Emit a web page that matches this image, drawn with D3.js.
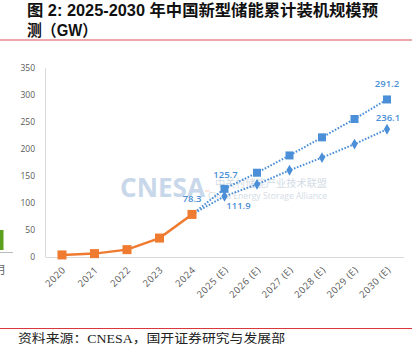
<!DOCTYPE html>
<html>
<head>
<meta charset="utf-8">
<script src="https://cdn.jsdelivr.net/npm/d3@7"></script>
<style>
  html, body { margin: 0; padding: 0; background: #fff; }
  svg { display: block; }
</style>
</head>
<body>
<svg id="chart" width="418" height="348"></svg>
<script>
// Cumulative installed capacity of new-type energy storage in China (GW)
const years = ["2020", "2021", "2022", "2023", "2024",
  "2025 (E)", "2026 (E)", "2027 (E)", "2028 (E)", "2029 (E)", "2030 (E)"];
const historyYears = ["2020", "2021", "2022", "2023", "2024"];
const historyValues = [3.3, 5.7, 13.1, 34.5, 78.3];
const forecastYears = ["2024", "2025 (E)", "2026 (E)", "2027 (E)", "2028 (E)", "2029 (E)", "2030 (E)"];
const highValues = [78.3, 125.7, 155.5, 187.5, 221.0, 255.0, 291.2];
const lowValues = [78.3, 111.9, 134.0, 160.0, 183.5, 208.5, 236.1];
const yTicks = [0, 50, 100, 150, 200, 250, 300, 350];

const svg = d3.select("#chart");
const orange = "#ee7b30";
const blue = "#4a8fd8";
const tickGray = "#595959";
const cjk = "'Noto Sans CJK SC'";

// Header
const title = svg.append("g")
  .attr("font-family", "'Liberation Sans', " + cjk)
  .attr("font-weight", "bold")
  .attr("font-size", 16)
  .attr("fill", "#111")
  .style("white-space", "pre");
title.append("text").attr("x", 27).attr("y", 16)
  .attr("textLength", 351).attr("lengthAdjust", "spacingAndGlyphs")
  .text("图 2:   2025-2030 年中国新型储能累计装机规模预");
title.append("text").attr("x", 27).attr("y", 36)
  .attr("textLength", 70).attr("lengthAdjust", "spacingAndGlyphs")
  .text("测（GW）");
svg.append("line").attr("x1", 0).attr("x2", 412).attr("y1", 40).attr("y2", 40)
  .attr("stroke", "#e88a90").attr("stroke-width", 1.5);

// Footer
svg.append("line").attr("x1", 0).attr("x2", 412).attr("y1", 328.5).attr("y2", 328.5)
  .attr("stroke", "#d9383f").attr("stroke-width", 1);
svg.append("text").attr("x", 18).attr("y", 343)
  .attr("font-family", "'Liberation Serif', " + cjk)
  .attr("font-size", 12.5).attr("fill", "#222")
  .attr("textLength", 267).attr("lengthAdjust", "spacingAndGlyphs")
  .text("资料来源：CNESA，国开证券研究与发展部");

// Neighbouring page fragment on the left edge
svg.append("rect").attr("x", 0).attr("y", 230).attr("width", 3.5).attr("height", 20).attr("fill", "#5aa01e");
svg.append("line").attr("x1", 0).attr("x2", 13).attr("y1", 252.5).attr("y2", 252.5).attr("stroke", "#bbb");
svg.append("text").attr("x", -5).attr("y", 274).attr("font-family", cjk)
  .attr("font-size", 11).attr("fill", "#666").text("月");

// Scales
const x = d3.scaleBand().domain(years).range([45.75, 403.25]).padding(0);
const cx = d => x(d) + x.bandwidth() / 2;
const y = d3.scaleLinear().domain([0, 350]).range([256.7, 67.7]);

// Watermark
const wm = svg.append("g");
wm.append("text").attr("x", 120).attr("y", 197)
  .attr("font-family", "'Open Sans'").attr("font-weight", "bold").attr("font-size", 27)
  .attr("fill", "#c8d8ea").attr("textLength", 85).attr("lengthAdjust", "spacingAndGlyphs")
  .text("CNESA");
wm.append("text").attr("x", 205).attr("y", 192).attr("font-family", "'Open Sans'")
  .attr("font-size", 4).attr("fill", "#f3b48a").text("cn");
wm.append("text").attr("x", 215).attr("y", 187).attr("font-family", cjk)
  .attr("font-size", 10.5).attr("fill", "#d4dce6")
  .attr("textLength", 112).attr("lengthAdjust", "spacingAndGlyphs")
  .text("中关村储能产业技术联盟");
wm.append("text").attr("x", 208).attr("y", 199).attr("font-family", "'Open Sans'")
  .attr("font-size", 8.5).attr("fill", "#d4dce6")
  .attr("textLength", 119).attr("lengthAdjust", "spacingAndGlyphs")
  .text("China Energy Storage Alliance");

// Axes
const yAxis = svg.append("g").attr("transform", "translate(45,0)")
  .call(d3.axisLeft(y).tickValues(yTicks).tickSize(0).tickPadding(10));
yAxis.select(".domain").attr("stroke", "#d9d9d9");
yAxis.selectAll("text").attr("font-family", "'Open Sans'").attr("font-size", 8.5).attr("fill", tickGray);

const xAxis = svg.append("g").attr("transform", "translate(0,257)")
  .call(d3.axisBottom(x).tickSize(0).tickFormat(d => d));
xAxis.select(".domain").attr("stroke", "#d9d9d9").attr("stroke-width", 1);
xAxis.selectAll("text")
  .attr("font-family", "'Open Sans'").attr("font-size", 9.5).attr("fill", tickGray)
  .attr("letter-spacing", 0.6)
  .attr("text-anchor", "end")
  .attr("y", 0).attr("dy", "0.35em")
  .attr("transform", "translate(2,11) rotate(-45)");

// Forecast lines (dotted)
const line = d3.line();
const plot = svg.append("g");
[highValues, lowValues].forEach(vals => {
  plot.append("path")
    .datum(forecastYears.map((yr, i) => [cx(yr), y(vals[i])]))
    .attr("d", line).attr("fill", "none")
    .attr("stroke", blue).attr("stroke-width", 2)
    .attr("stroke-dasharray", "1.6,1.6");
});
// High scenario squares
plot.selectAll(".sq").data(forecastYears.slice(1).map((yr, i) => [yr, highValues[i + 1]]))
  .join("rect").attr("class", "sq")
  .attr("x", d => cx(d[0]) - 4).attr("y", d => y(d[1]) - 4)
  .attr("width", 8).attr("height", 8).attr("fill", blue);
// Low scenario diamonds
plot.selectAll(".dm").data(forecastYears.slice(1).map((yr, i) => [yr, lowValues[i + 1]]))
  .join("path").attr("class", "dm")
  .attr("d", d3.symbol(d3.symbolDiamond, 34))
  .attr("transform", d => `translate(${cx(d[0])},${y(d[1])})`)
  .attr("fill", blue);

// Historical line
plot.append("path")
  .datum(historyYears.map((yr, i) => [cx(yr), y(historyValues[i])]))
  .attr("d", line).attr("fill", "none")
  .attr("stroke", orange).attr("stroke-width", 2.5);
plot.selectAll(".hs").data(historyYears.map((yr, i) => [yr, historyValues[i]]))
  .join("rect").attr("class", "hs")
  .attr("x", d => cx(d[0]) - 4.5).attr("y", d => y(d[1]) - 4.5)
  .attr("width", 9).attr("height", 9).attr("fill", orange);

// Value labels
const labels = [
  { yr: "2024", v: historyValues[4], dx: 0, dy: -12 },
  { yr: "2025 (E)", v: highValues[1], dx: 1, dy: -11 },
  { yr: "2025 (E)", v: lowValues[1], dx: 14, dy: 13 },
  { yr: "2030 (E)", v: highValues[6], dx: 0, dy: -12 },
  { yr: "2030 (E)", v: lowValues[6], dx: 1, dy: -8 }
];
plot.selectAll(".lbl").data(labels).join("text").attr("class", "lbl")
  .attr("x", d => cx(d.yr) + d.dx).attr("y", d => y(d.v) + d.dy)
  .attr("text-anchor", "middle")
  .attr("font-family", "'Open Sans'").attr("font-weight", 600).attr("font-size", 9.5)
  .attr("fill", blue)
  .text(d => d.v.toFixed(1));
</script>
</body>
</html>
